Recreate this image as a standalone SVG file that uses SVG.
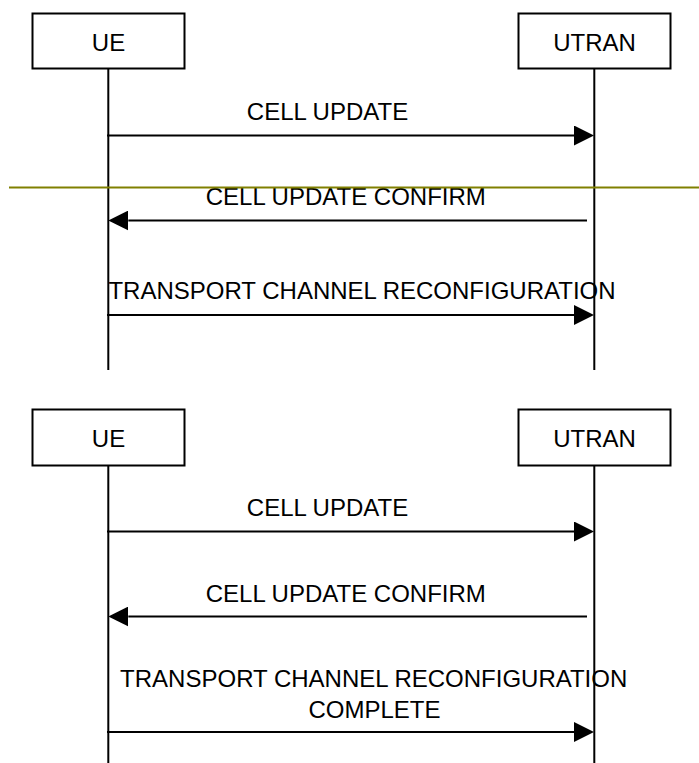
<svg xmlns="http://www.w3.org/2000/svg" width="699" height="763" viewBox="0 0 699 763">
  <style>
    .box { fill: #ffffff; stroke: #000000; stroke-width: 2; }
    .life { stroke: #000000; stroke-width: 2; fill: none; }
    .msg { stroke: #000000; stroke-width: 2; fill: none; marker-end: url(#head); }
    .sep { stroke: #808000; stroke-width: 2; fill: none; }
    text { font-family: "Liberation Sans", Arial, sans-serif; font-size: 24px; fill: #000000; text-anchor: middle; }
  </style>
  <defs>
    <marker id="head" viewBox="0 0 20 20" refX="0" refY="10" markerWidth="20" markerHeight="20" markerUnits="userSpaceOnUse" orient="auto">
      <path d="M0,0 L20,10 L0,20 Z" fill="#000000"/>
    </marker>
  </defs>

  <rect width="699" height="763" fill="#ffffff"/>

  <!-- first sequence -->
  <g id="ue-1">
    <rect class="box" x="32.5" y="13.5" width="152" height="55"/>
    <text x="108.5" y="50.5">UE</text>
    <line class="life" x1="108.3" y1="69" x2="108.3" y2="370"/>
  </g>
  <g id="utran-1">
    <rect class="box" x="518.5" y="13.5" width="152" height="55"/>
    <text x="594.5" y="50.5">UTRAN</text>
    <line class="life" x1="594.3" y1="69" x2="594.3" y2="370"/>
  </g>

  <g id="connectors-1">
    <line class="msg" x1="107" y1="135.5" x2="574" y2="135.5"/>
    <text x="327.5" y="120">CELL UPDATE</text>
    <line class="msg" x1="587" y1="220.5" x2="128.3" y2="220.5"/>
    <text x="345.8" y="205">CELL UPDATE CONFIRM</text>
    <line class="msg" x1="107" y1="315" x2="574" y2="315"/>
    <text x="362" y="298.5">TRANSPORT CHANNEL RECONFIGURATION</text>
  </g>

  <!-- separator rule -->
  <line class="sep" x1="9" y1="187.5" x2="699" y2="187.5"/>

  <!-- second sequence -->
  <g id="ue-2">
    <rect class="box" x="32.5" y="409.5" width="152" height="56"/>
    <text x="108.5" y="446.5">UE</text>
    <line class="life" x1="108.3" y1="466" x2="108.3" y2="763"/>
  </g>
  <g id="utran-2">
    <rect class="box" x="518.5" y="409.5" width="152" height="56"/>
    <text x="594.5" y="446.5">UTRAN</text>
    <line class="life" x1="594.3" y1="466" x2="594.3" y2="763"/>
  </g>

  <g id="connectors-2">
    <line class="msg" x1="107" y1="531.5" x2="574" y2="531.5"/>
    <text x="327.5" y="516">CELL UPDATE</text>
    <line class="msg" x1="587" y1="616.5" x2="128.3" y2="616.5"/>
    <text x="345.8" y="601.5">CELL UPDATE CONFIRM</text>
    <line class="msg" x1="107" y1="732" x2="574" y2="732"/>
    <text x="373.7" y="687">TRANSPORT CHANNEL RECONFIGURATION</text>
    <text x="374.5" y="718">COMPLETE</text>
  </g>
</svg>
